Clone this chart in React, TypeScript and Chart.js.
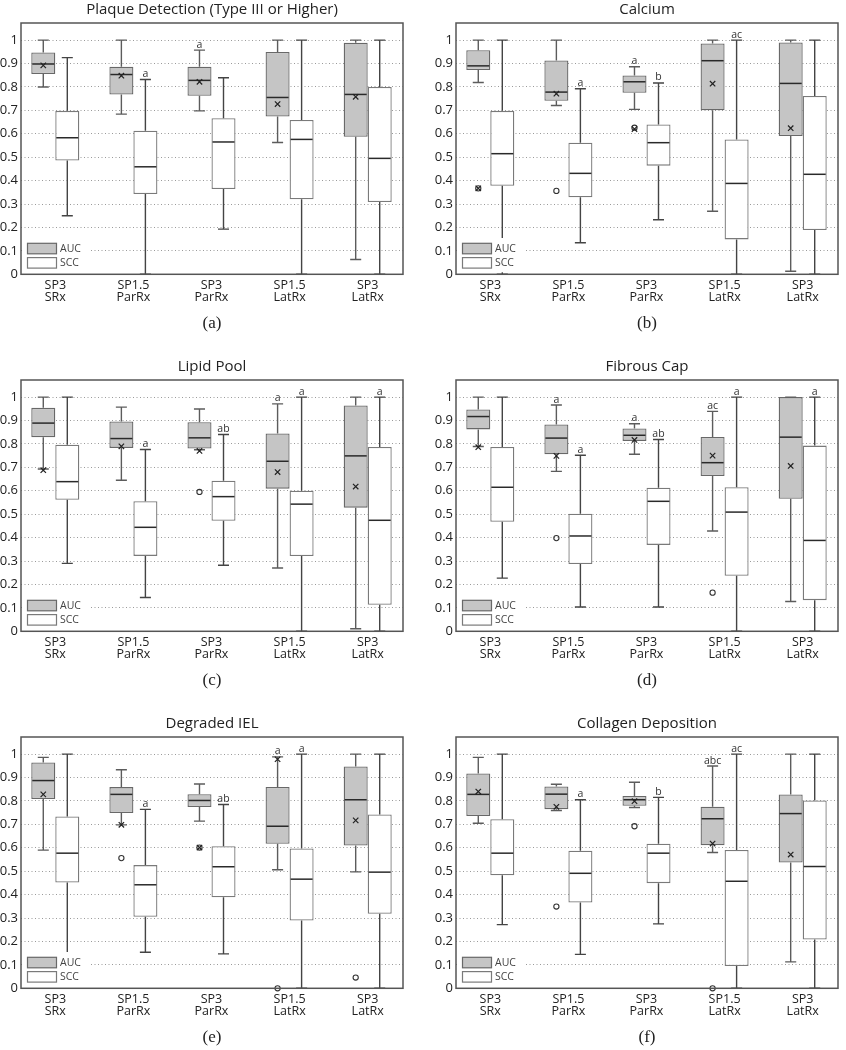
import React, { useEffect, useRef } from "react";
import { Chart, registerables } from "chart.js";

Chart.register(...registerables);
Chart.defaults.font.family = '"Open Sans", "Liberation Sans", sans-serif';

// ---------- shared axis data ----------
const categories: string[][] = [
  ["SP3", "SRx"],
  ["SP1.5", "ParRx"],
  ["SP3", "ParRx"],
  ["SP1.5", "LatRx"],
  ["SP3", "LatRx"],
];
const categoryPositions = [1, 2, 3, 4, 5];
const yTicks = [0, 0.1, 0.2, 0.3, 0.4, 0.5, 0.6, 0.7, 0.8, 0.9, 1];
const seriesNames = ["AUC", "SCC"];

// box stats per category: [min, q1, median, q3, max]
// ---------- (a) Plaque Detection ----------
const plaqueAUC = [
  [0.8, 0.855, 0.898, 0.947, 1.0],
  [0.684, 0.768, 0.853, 0.886, 1.0],
  [0.698, 0.762, 0.828, 0.886, 0.957],
  [0.563, 0.674, 0.755, 0.949, 1.0],
  [0.063, 0.587, 0.768, 0.989, 1.0],
];
const plaqueSCC = [
  [0.25, 0.486, 0.583, 0.698, 0.925],
  [0.0, 0.343, 0.459, 0.613, 0.832],
  [0.193, 0.364, 0.565, 0.666, 0.839],
  [0.0, 0.32, 0.576, 0.659, 1.0],
  [0.0, 0.309, 0.495, 0.8, 1.0],
];
const plaqueMarks = [0.892, 0.848, 0.822, 0.727, 0.758];
const plaqueOutliers: number[][] = [[], [], [], [], []];
const plaqueAUCNotes = ["", "", "a", "", ""];
const plaqueSCCNotes = ["", "a", "", "", ""];

// ---------- (b) Calcium ----------
const calciumAUC = [
  [0.819, 0.872, 0.89, 0.957, 1.0],
  [0.721, 0.741, 0.778, 0.913, 1.0],
  [0.704, 0.775, 0.822, 0.849, 0.886],
  [0.269, 0.7, 0.912, 0.986, 1.0],
  [0.013, 0.59, 0.815, 0.99, 1.0],
];
const calciumSCC = [
  [0.0, 0.378, 0.515, 0.698, 1.0],
  [0.135, 0.329, 0.431, 0.562, 0.792],
  [0.233, 0.464, 0.562, 0.64, 0.817],
  [0.0, 0.149, 0.388, 0.576, 1.0],
  [0.0, 0.189, 0.427, 0.761, 1.0],
];
const calciumMarks = [0.367, 0.771, 0.62, 0.814, 0.624];
const calciumOutliers: number[][] = [[0.367], [0.356], [0.626], [], []];
const calciumAUCNotes = ["", "", "a", "", ""];
const calciumSCCNotes = ["", "a", "b", "ac", ""];

// ---------- (c) Lipid Pool ----------
const lipidAUC = [
  [0.693, 0.829, 0.889, 0.954, 1.0],
  [0.645, 0.783, 0.823, 0.896, 0.957],
  [0.775, 0.78, 0.826, 0.893, 0.949],
  [0.27, 0.609, 0.726, 0.845, 0.971],
  [0.011, 0.528, 0.749, 0.964, 1.0],
];
const lipidSCC = [
  [0.29, 0.562, 0.639, 0.797, 1.0],
  [0.144, 0.322, 0.444, 0.555, 0.776],
  [0.282, 0.472, 0.575, 0.643, 0.84],
  [0.0, 0.321, 0.543, 0.6, 1.0],
  [0.0, 0.113, 0.474, 0.787, 1.0],
];
const lipidMarks = [0.688, 0.79, 0.77, 0.68, 0.618];
const lipidOutliers: number[][] = [[], [], [0.595], [], []];
const lipidAUCNotes = ["", "", "", "a", ""];
const lipidSCCNotes = ["", "a", "ab", "a", "a"];

// ---------- (d) Fibrous Cap ----------
const fibrousAUC = [
  [0.789, 0.862, 0.917, 0.947, 1.0],
  [0.683, 0.756, 0.825, 0.883, 0.966],
  [0.756, 0.813, 0.837, 0.866, 0.886],
  [0.428, 0.663, 0.72, 0.83, 0.939],
  [0.127, 0.566, 0.829, 1.0, 1.0],
];
const fibrousSCC = [
  [0.227, 0.468, 0.615, 0.787, 1.0],
  [0.104, 0.287, 0.407, 0.502, 0.752],
  [0.104, 0.369, 0.555, 0.613, 0.819],
  [0.0, 0.237, 0.509, 0.615, 1.0],
  [0.0, 0.133, 0.388, 0.793, 1.0],
];
const fibrousMarks = [0.786, 0.749, 0.817, 0.75, 0.706];
const fibrousOutliers: number[][] = [[], [0.398], [], [0.165], []];
const fibrousAUCNotes = ["", "a", "a", "ac", ""];
const fibrousSCCNotes = ["", "a", "ab", "a", "a"];

// ---------- (e) Degraded IEL ----------
const ielAUC = [
  [0.59, 0.808, 0.887, 0.964, 0.986],
  [0.698, 0.748, 0.828, 0.859, 0.933],
  [0.714, 0.774, 0.802, 0.829, 0.872],
  [0.506, 0.617, 0.692, 0.86, 0.988],
  [0.497, 0.61, 0.805, 0.947, 1.0],
];
const ielSCC = [
  [0.06, 0.452, 0.577, 0.734, 1.0],
  [0.154, 0.305, 0.442, 0.526, 0.764],
  [0.147, 0.389, 0.519, 0.607, 0.785],
  [0.0, 0.289, 0.466, 0.597, 1.0],
  [0.0, 0.318, 0.496, 0.742, 1.0],
];
const ielMarks = [0.828, 0.698, 0.601, 0.978, 0.717];
const ielOutliers: number[][] = [[], [0.556], [0.601], [0.0], [0.046]];
const ielAUCNotes = ["", "", "", "a", ""];
const ielSCCNotes = ["", "a", "ab", "a", ""];

// ---------- (f) Collagen Deposition ----------
const collagenAUC = [
  [0.705, 0.736, 0.828, 0.917, 0.986],
  [0.759, 0.765, 0.829, 0.862, 0.871],
  [0.772, 0.779, 0.805, 0.821, 0.88],
  [0.58, 0.611, 0.724, 0.775, 0.949],
  [0.113, 0.537, 0.746, 0.828, 1.0],
];
const collagenSCC = [
  [0.272, 0.483, 0.577, 0.722, 1.0],
  [0.145, 0.366, 0.491, 0.587, 0.805],
  [0.275, 0.449, 0.577, 0.617, 0.815],
  [0.0, 0.095, 0.457, 0.591, 1.0],
  [0.0, 0.208, 0.52, 0.802, 1.0],
];
const collagenMarks = [0.84, 0.775, 0.799, 0.618, 0.571];
const collagenOutliers: number[][] = [[], [0.349], [0.692], [0.0], []];
const collagenAUCNotes = ["", "", "", "abc", ""];
const collagenSCCNotes = ["", "a", "b", "ac", ""];

type PanelDef = {
  title: string;
  caption: string;
  auc: number[][];
  scc: number[][];
  marks: (number | null)[];
  outliers: number[][];
  aucNotes: string[];
  sccNotes: string[];
};

const panels: PanelDef[] = [
  { title: "Plaque Detection (Type III or Higher)", caption: "(a)", auc: plaqueAUC, scc: plaqueSCC, marks: plaqueMarks, outliers: plaqueOutliers, aucNotes: plaqueAUCNotes, sccNotes: plaqueSCCNotes },
  { title: "Calcium", caption: "(b)", auc: calciumAUC, scc: calciumSCC, marks: calciumMarks, outliers: calciumOutliers, aucNotes: calciumAUCNotes, sccNotes: calciumSCCNotes },
  { title: "Lipid Pool", caption: "(c)", auc: lipidAUC, scc: lipidSCC, marks: lipidMarks, outliers: lipidOutliers, aucNotes: lipidAUCNotes, sccNotes: lipidSCCNotes },
  { title: "Fibrous Cap", caption: "(d)", auc: fibrousAUC, scc: fibrousSCC, marks: fibrousMarks, outliers: fibrousOutliers, aucNotes: fibrousAUCNotes, sccNotes: fibrousSCCNotes },
  { title: "Degraded IEL", caption: "(e)", auc: ielAUC, scc: ielSCC, marks: ielMarks, outliers: ielOutliers, aucNotes: ielAUCNotes, sccNotes: ielSCCNotes },
  { title: "Collagen Deposition", caption: "(f)", auc: collagenAUC, scc: collagenSCC, marks: collagenMarks, outliers: collagenOutliers, aucNotes: collagenAUCNotes, sccNotes: collagenSCCNotes },
];

const AUC_FILL = "#c5c5c5";
const AUC_BORDER = "#686868";
const SCC_FILL = "#ffffff";
const SCC_BORDER = "#7a7a7a";

function makeBoxPlugin(panel: PanelDef) {
  return {
    id: "boxDetails",
    afterDatasetsDraw(chart: any) {
      const ctx: CanvasRenderingContext2D = chart.ctx;
      const yScale = chart.scales.y;
      const area = chart.chartArea;
      const py = (v: number) => yScale.getPixelForValue(v);
      const groups = [
        { stats: panel.auc, notes: panel.aucNotes, color: "#5c5c5c" },
        { stats: panel.scc, notes: panel.sccNotes, color: "#444444" },
      ];
      ctx.save();
      groups.forEach((g, di) => {
        const meta = chart.getDatasetMeta(di);
        meta.data.forEach((el: any, i: number) => {
          const { x, width } = el.getProps(["x", "width"], true);
          const [mn, q1, md, q3, mx] = g.stats[i];
          const cap = width * 0.46;
          ctx.strokeStyle = g.color;
          ctx.lineWidth = 1.4;
          ctx.beginPath();
          ctx.moveTo(x, py(q3));
          ctx.lineTo(x, py(mx));
          ctx.moveTo(x - cap / 2, py(mx));
          ctx.lineTo(x + cap / 2, py(mx));
          ctx.moveTo(x, py(q1));
          ctx.lineTo(x, py(mn));
          ctx.moveTo(x - cap / 2, py(mn));
          ctx.lineTo(x + cap / 2, py(mn));
          ctx.stroke();
          ctx.strokeStyle = "#2a2a2a";
          ctx.lineWidth = 1.5;
          ctx.beginPath();
          ctx.moveTo(x - width / 2 + 1, py(md));
          ctx.lineTo(x + width / 2 - 1, py(md));
          ctx.stroke();
          const note = g.notes[i];
          if (note) {
            ctx.fillStyle = "#333";
            ctx.font = '10.5px "Open Sans", sans-serif';
            ctx.textAlign = "center";
            ctx.textBaseline = "alphabetic";
            ctx.fillText(note, x, py(mx) - 2.5);
          }
        });
      });
      // outliers and x markers on the AUC boxes
      const aucMeta = chart.getDatasetMeta(0);
      aucMeta.data.forEach((el: any, i: number) => {
        const { x } = el.getProps(["x"], true);
        ctx.strokeStyle = "#333";
        ctx.lineWidth = 1.1;
        panel.outliers[i].forEach((v) => {
          ctx.beginPath();
          ctx.arc(x, py(v), 2.6, 0, Math.PI * 2);
          ctx.stroke();
        });
        const m = panel.marks[i];
        if (m !== null && m !== undefined) {
          const yy = py(m);
          const r = 2.7;
          ctx.strokeStyle = "#222";
          ctx.lineWidth = 1.2;
          ctx.beginPath();
          ctx.moveTo(x - r, yy - r);
          ctx.lineTo(x + r, yy + r);
          ctx.moveTo(x + r, yy - r);
          ctx.lineTo(x - r, yy + r);
          ctx.stroke();
        }
      });
      // legend (inside plot, bottom-left)
      const lx = area.left;
      const topY = py(0.155);
      ctx.fillStyle = "#ffffff";
      ctx.fillRect(lx + 2, topY, 67, area.bottom - 2 - topY);
      chart.data.datasets.forEach((ds: any, k: number) => {
        const by = area.bottom - 31 + k * 14.3;
        ctx.fillStyle = ds.backgroundColor;
        ctx.fillRect(lx + 6.5, by, 29, 10.5);
        ctx.strokeStyle = ds.borderColor;
        ctx.lineWidth = 1.2;
        ctx.strokeRect(lx + 6.5, by, 29, 10.5);
        ctx.fillStyle = "#444";
        ctx.font = '10.5px "Open Sans", sans-serif';
        ctx.textAlign = "left";
        ctx.textBaseline = "middle";
        ctx.fillText(ds.label, lx + 39, by + 5.5);
      });
      ctx.restore();
    },
    afterDraw(chart: any) {
      const ctx: CanvasRenderingContext2D = chart.ctx;
      const a = chart.chartArea;
      ctx.save();
      ctx.strokeStyle = "#555";
      ctx.lineWidth = 1.5;
      ctx.strokeRect(a.left, a.top, a.right - a.left, a.bottom - a.top);
      ctx.restore();
    },
  };
}

type Placement = { left: number; top: number; width: number; height: number; yWidth: number; rightPad: number };

function BoxPanel({ panel, place }: { panel: PanelDef; place: Placement }) {
  const ref = useRef<HTMLCanvasElement>(null);
  useEffect(() => {
    const canvas = ref.current;
    if (!canvas) return;
    const mk = (stats: number[][]) =>
      stats.map((s, i) => ({ x: categoryPositions[i], y: [s[1], s[3]] }));
    const chart = new Chart(canvas, {
      type: "bar",
      data: {
        datasets: [
          {
            label: seriesNames[0],
            data: mk(panel.auc) as any,
            backgroundColor: AUC_FILL,
            borderColor: AUC_BORDER,
            borderWidth: 1.3,
            borderSkipped: false,
            inflateAmount: 0,
            categoryPercentage: 0.615,
            barPercentage: 1,
          } as any,
          {
            label: seriesNames[1],
            data: mk(panel.scc) as any,
            backgroundColor: SCC_FILL,
            borderColor: SCC_BORDER,
            borderWidth: 1.3,
            borderSkipped: false,
            inflateAmount: 0,
            categoryPercentage: 0.615,
            barPercentage: 1,
          } as any,
        ],
      },
      options: {
        animation: false,
        responsive: false,
        maintainAspectRatio: false,
        events: [],
        layout: { padding: { left: 0, right: place.rightPad, top: 0, bottom: 0 } },
        plugins: {
          legend: { display: false },
          tooltip: { enabled: false },
          title: {
            display: true,
            text: panel.title,
            fullSize: false,
            color: "#222",
            font: { size: 15, weight: "normal" },
            padding: { top: 0.5, bottom: 4.5 },
          },
          subtitle: {
            display: true,
            text: panel.caption,
            position: "bottom",
            fullSize: false,
            color: "#222",
            font: { family: '"Liberation Serif", serif', size: 17, weight: "normal" },
            padding: { top: 11.3, bottom: 2 },
          },
        },
        scales: {
          x: {
            type: "linear",
            min: 0.561,
            max: 5.452,
            offset: false,
            grid: { display: false, drawTicks: false, offset: false },
            border: { display: false },
            afterBuildTicks: (s: any) => {
              s.ticks = categoryPositions.map((v) => ({ value: v }));
            },
            afterFit: (s: any) => {
              s.height = 28;
            },
            ticks: {
              autoSkip: false,
              maxRotation: 0,
              color: "#222",
              padding: 6,
              font: { size: 12.5, lineHeight: 0.9 },
              callback: (_v: any, i: number) => categories[i],
            },
          },
          y: {
            type: "linear",
            min: 0,
            max: 1.073,
            grid: { display: true, drawTicks: false, color: "#9a9a9a", lineWidth: 1 },
            border: { display: false, dash: [1, 2.5] },
            afterBuildTicks: (s: any) => {
              s.ticks = yTicks.map((v) => ({ value: v }));
            },
            afterFit: (s: any) => {
              s.width = place.yWidth;
            },
            ticks: {
              color: "#222",
              padding: 3,
              font: { size: 13 },
              callback: (v: any) => String(v),
            },
          },
        },
      } as any,
      plugins: [makeBoxPlugin(panel) as any],
    });
    return () => chart.destroy();
  }, []);
  return (
    <canvas
      ref={ref}
      width={place.width}
      height={place.height}
      style={{ position: "absolute", left: place.left, top: place.top, width: place.width, height: place.height, display: "block" }}
    />
  );
}

const rowTops = [0, 357, 714];
const colLefts = [0, 423];
const colWidths = [420, 423];
const colYWidths = [21, 33];
const colRightPads = [17, 8];

export default function App() {
  return (
    <div style={{ position: "absolute", left: 0, top: 0, width: 846, height: 1050, background: "#fff", overflow: "hidden" }}>
      {panels.map((p, idx) => {
        const r = Math.floor(idx / 2);
        const c = idx % 2;
        const place: Placement = {
          left: colLefts[c],
          top: rowTops[r],
          width: colWidths[c],
          height: 336,
          yWidth: colYWidths[c],
          rightPad: colRightPads[c],
        };
        return <BoxPanel key={idx} panel={p} place={place} />;
      })}
    </div>
  );
}
